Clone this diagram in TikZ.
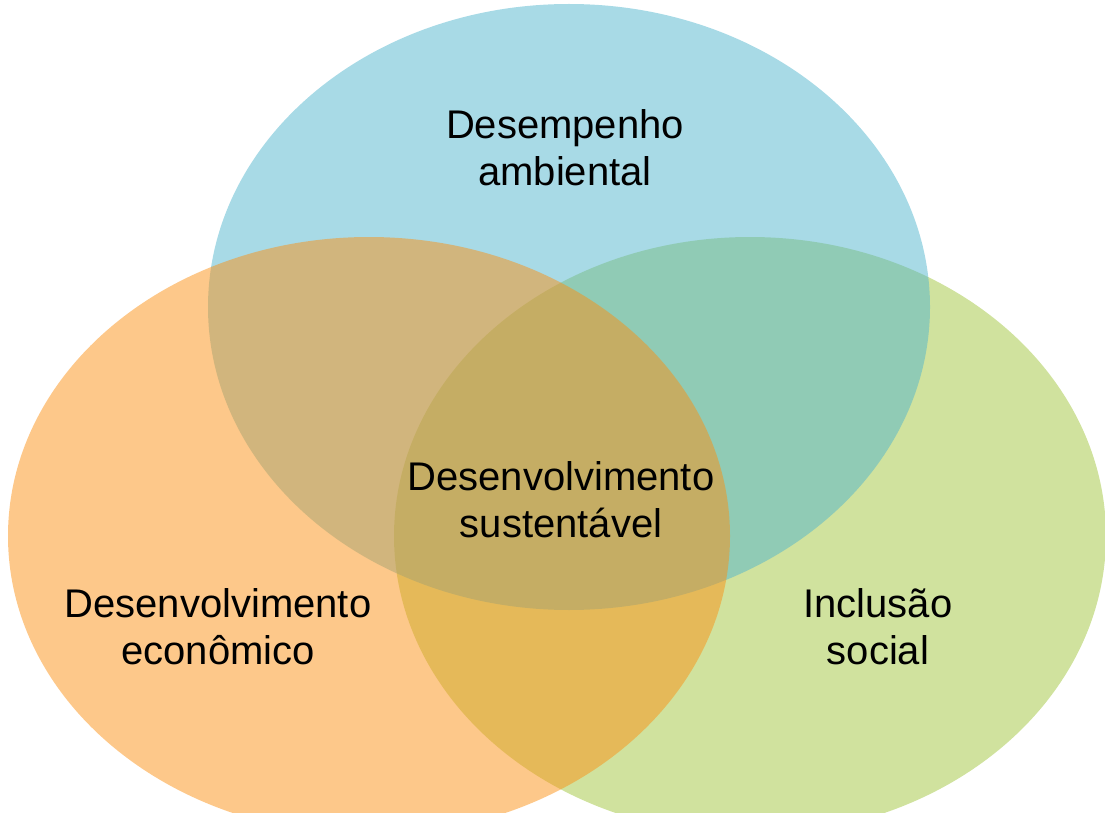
\documentclass[tikz,border=0pt]{standalone}
\usepackage{fontspec}
\setmainfont{Liberation Sans}
\usetikzlibrary{shapes.geometric}
\definecolor{envblue}{RGB}{81,181,205}
\definecolor{ecoorange}{RGB}{251,145,21}
\definecolor{socgreen}{RGB}{161,197,61}
\tikzset{
  setshape/.style={ellipse, draw=none, inner sep=0pt, fill opacity=0.5},
  setlabel/.style={align=center, text=black, font=\fontsize{40}{47}\selectfont, inner sep=0pt}
}
\begin{document}
\begin{tikzpicture}[x=1pt,y=-1pt]
  \useasboundingbox (0,0) rectangle (1105,813);
  \clip (0,0) rectangle (1105,813);
  % the three sets, drawn bottom to top
  \node[setshape, fill=socgreen, minimum width=712pt, minimum height=598pt] (social) at (750,536) {};
  \node[setshape, fill=envblue, minimum width=722pt, minimum height=606pt] (ambiental) at (569,307) {};
  \node[setshape, fill=ecoorange, minimum width=722pt, minimum height=598pt] (economico) at (369,536) {};
  % labels
  \node[setlabel] (lblamb) at (565,148) {Desempenho\\ambiental};
  \node[setlabel] (lblsus) at (561,500) {Desenvolvimento\\sustentável};
  \node[setlabel] (lbleco) at (218,627) {Desenvolvimento\\econômico};
  \node[setlabel] (lblsoc) at (878,627) {Inclusão\\social};
\end{tikzpicture}
\end{document}
